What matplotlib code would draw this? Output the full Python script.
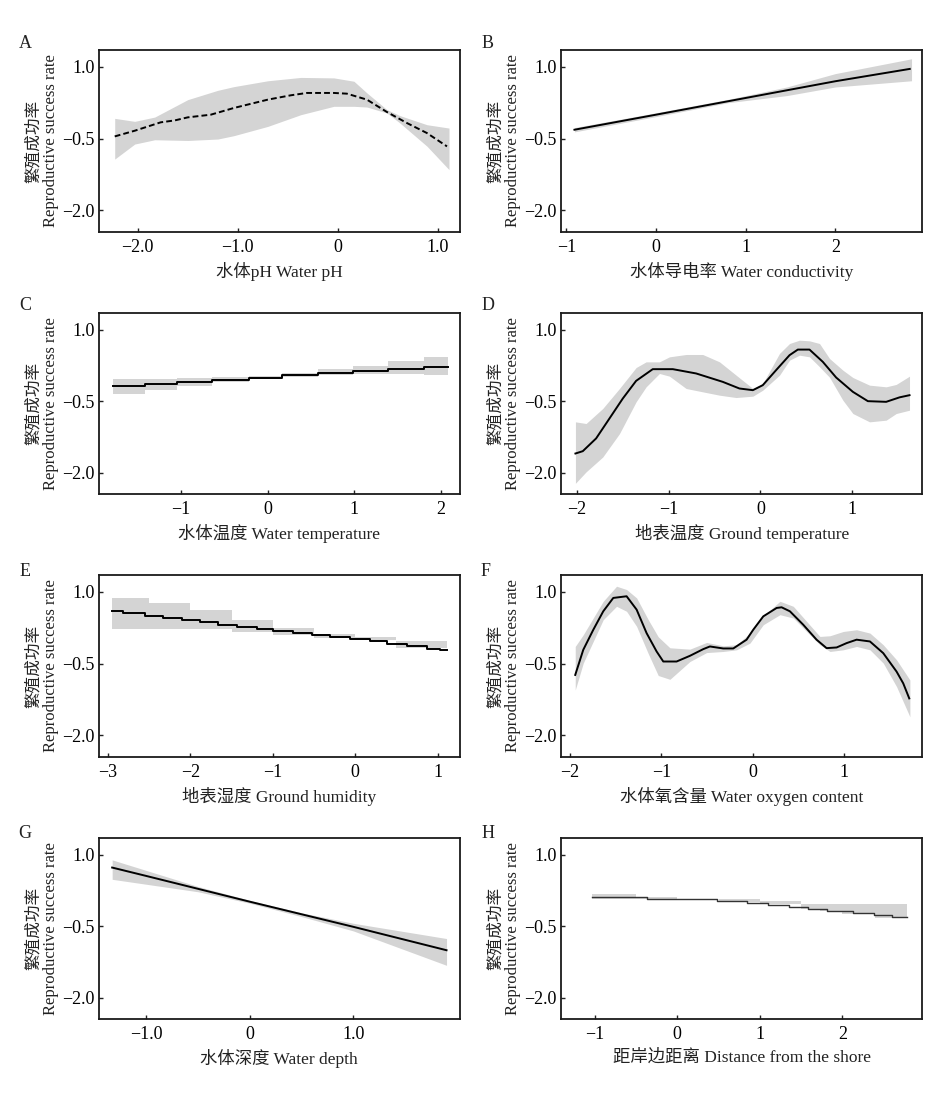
import matplotlib.pyplot as plt
import numpy as np

plt.rcParams['font.family'] = ['Liberation Serif', 'Noto Sans CJK SC']
plt.rcParams['axes.unicode_minus'] = True

# ---- data ----
ylabel = '繁殖成功率\nReproductive success rate'

# A: water pH (dashed line)
a_x = [-2.23, -2.03, -1.77, -1.63, -1.50, -1.27, -1.04, -0.70, -0.47, -0.31, -0.04, 0.09, 0.29, 0.49, 0.69, 0.89, 1.09]
a_y = [-0.455, -0.336, -0.16, -0.12, -0.056, 0.0, 0.14, 0.315, 0.406, 0.455, 0.455, 0.44, 0.315, 0.056, -0.175, -0.385, -0.664]
a_band_x = [-2.23, -2.03, -1.83, -1.50, -1.20, -1.04, -0.70, -0.37, -0.04, 0.16, 0.29, 0.49, 0.62, 0.89, 1.11]
a_hi = [-0.077, -0.14, -0.05, 0.315, 0.51, 0.587, 0.71, 0.78, 0.77, 0.70, 0.455, 0.105, -0.02, -0.21, -0.28]
a_lo = [-0.93, -0.615, -0.525, -0.54, -0.51, -0.44, -0.245, 0.0, 0.175, 0.175, 0.16, 0.035, -0.175, -0.66, -1.15]

# B: water conductivity
b_x = [-0.91, 0.0, 1.0, 2.0, 2.83]
b_y = [-0.315, 0.0, 0.35, 0.70, 0.958]
b_band_x = [-0.91, 0.0, 0.8, 1.46, 2.0, 2.85]
b_hi = [-0.27, 0.04, 0.32, 0.58, 0.86, 1.17]
b_lo = [-0.36, -0.04, 0.25, 0.40, 0.58, 0.71]

# C: water temperature (steps)
c_x = [-1.78, -1.42, -1.05, -0.64, -0.21, 0.17, 0.58, 0.98, 1.39, 1.81, 2.08]
c_y = [-0.186, -0.144, -0.095, -0.047, -0.005, 0.044, 0.093, 0.135, 0.177, 0.225, 0.225]
c_hi = [-0.046, -0.044, -0.025, 0.003, 0.035, 0.094, 0.163, 0.245, 0.337, 0.425, 0.425]
c_lo = [-0.356, -0.264, -0.175, -0.097, -0.045, 0.004, 0.043, 0.065, 0.077, 0.045, 0.045]

# D: ground temperature
d_x = [-2.013, -1.933, -1.788, -1.643, -1.498, -1.353, -1.172, -0.954, -0.700, -0.410, -0.229, -0.083,
       0.025, 0.170, 0.316, 0.406, 0.533, 0.678, 0.823, 1.005, 1.168, 1.367, 1.513, 1.621]
d_y = [-1.596, -1.547, -1.28, -0.863, -0.445, -0.075, 0.17, 0.17, 0.08, -0.096, -0.235, -0.27,
       -0.165, 0.15, 0.463, 0.58, 0.58, 0.323, -0.005, -0.305, -0.5, -0.514, -0.42, -0.375]
d_band_x = [-2.013, -1.897, -1.716, -1.534, -1.353, -1.244, -1.099, -0.990, -0.809, -0.628, -0.446, -0.265, -0.083,
            0.025, 0.207, 0.316, 0.424, 0.533, 0.642, 0.751, 0.896, 1.005, 1.186, 1.367, 1.476, 1.621]
d_hi = [-0.933, -0.968, -0.654, -0.235, 0.204, 0.323, 0.323, 0.428, 0.477, 0.477, 0.323, 0.044, -0.235,
        -0.13, 0.50, 0.707, 0.777, 0.763, 0.707, 0.393, 0.149, -0.005, -0.165, -0.2, -0.15, 0.023]
d_lo = [-2.22, -1.98, -1.67, -1.18, -0.514, -0.2, 0.08, 0.023, -0.235, -0.305, -0.375, -0.424, -0.396,
        -0.27, 0.044, 0.358, 0.463, 0.428, 0.22, 0.0, -0.48, -0.759, -0.933, -0.898, -0.759, -0.689]

# E: ground humidity (steps)
e_x = [-2.954, -2.812, -2.549, -2.327, -2.105, -1.883, -1.661, -1.438, -1.196, -0.994, -0.752,
       -0.529, -0.307, -0.065, 0.178, 0.380, 0.622, 0.865, 1.026, 1.107]
e_y = [0.594, 0.559, 0.502, 0.453, 0.404, 0.362, 0.313, 0.271, 0.222, 0.187, 0.138,
       0.089, 0.054, 0.012, -0.037, -0.093, -0.142, -0.191, -0.226, -0.226]
e_band_x = [-2.954, -2.5, -2.0, -1.5, -1.0, -0.5, 0.0, 0.5, 1.107]
e_hi = [0.874, 0.77, 0.615, 0.418, 0.243, 0.124, 0.054, -0.037, -0.142]
e_lo = [0.229, 0.23, 0.22, 0.16, 0.09, 0.04, -0.01, -0.17, -0.366]

# F: water oxygen content
f_x = [-1.944, -1.856, -1.746, -1.637, -1.527, -1.381, -1.271, -1.162, -1.052, -0.979, -0.833, -0.687,
       -0.541, -0.468, -0.322, -0.212, -0.066, 0.007, 0.117, 0.263, 0.318, 0.409, 0.555, 0.701, 0.811,
       0.921, 1.030, 1.140, 1.286, 1.432, 1.578, 1.651, 1.717]
f_y = [-0.738, -0.212, 0.208, 0.594, 0.874, 0.909, 0.629, 0.138, -0.247, -0.457, -0.457, -0.338,
       -0.198, -0.142, -0.184, -0.184, 0.0, 0.208, 0.488, 0.664, 0.678, 0.594, 0.313, 0.0, -0.177,
       -0.163, -0.072, 0.0, -0.037, -0.282, -0.668, -0.914, -1.23]
f_band_x = [-1.944, -1.856, -1.637, -1.491, -1.381, -1.271, -1.144, -1.034, -0.906, -0.687, -0.504, -0.322,
            -0.175, -0.029, 0.117, 0.300, 0.446, 0.592, 0.738, 0.848, 0.994, 1.140, 1.286, 1.432, 1.578, 1.724]
f_hi = [-0.142, 0.103, 0.804, 1.119, 1.05, 0.874, 0.42, 0.06, -0.17, -0.198, -0.058, -0.128,
        -0.107, 0.138, 0.495, 0.804, 0.699, 0.383, 0.068, 0.082, 0.172, 0.208, 0.138, -0.107, -0.422, -0.843]
f_lo = [-1.053, -0.49, 0.418, 0.699, 0.594, 0.278, -0.29, -0.75, -0.83, -0.457, -0.27, -0.247,
        -0.212, -0.072, 0.313, 0.523, 0.453, 0.172, -0.107, -0.247, -0.212, -0.142, -0.212, -0.49, -0.983, -1.614]

# G: water depth
g_x = [-1.33, -1.0, 0.0, 1.0, 1.9]
g_y = [0.727, 0.551, 0.012, -0.514, -1.004]
g_band_x = [-1.33, -0.5, 0.0, 0.5, 1.0, 1.9]
g_hi = [0.888, 0.33, 0.04, -0.22, -0.44, -0.759]
g_lo = [0.481, 0.22, -0.02, -0.30, -0.60, -1.32]

# H: distance from the shore (steps)
h_x = [-1.03, -0.37, 0.48, 0.84, 1.10, 1.35, 1.59, 1.81, 2.13, 2.38, 2.60, 2.78]
h_y = [0.103, 0.068, 0.026, -0.009, -0.058, -0.1, -0.142, -0.177, -0.233, -0.268, -0.31, -0.31]
h_band_x = [-1.03, -0.74, -0.5, 0.0, 0.5, 1.0, 1.5, 1.73, 2.0, 2.4, 2.78]
h_hi = [0.173, 0.173, 0.11, 0.075, 0.075, 0.02, -0.04, -0.044, -0.044, -0.044, -0.044]
h_lo = [0.061, 0.061, 0.065, 0.06, 0.01, -0.04, -0.14, -0.19, -0.25, -0.33, -0.465]

panels = [
    ('A', '水体pH Water pH', a_x, a_y, a_band_x, a_hi, a_lo, (-2.39, 1.22), [-2, -1, 0, 1], ['−2.0', '−1.0', '0', '1.0']),
    ('B', '水体导电率 Water conductivity', b_x, b_y, b_band_x, b_hi, b_lo, (-1.06, 2.97), [-1, 0, 1, 2], None),
    ('C', '水体温度 Water temperature', c_x, c_y, c_x, c_hi, c_lo, (-1.95, 2.22), [-1, 0, 1, 2], None),
    ('D', '地表温度 Ground temperature', d_x, d_y, d_band_x, d_hi, d_lo, (-2.17, 1.76), [-2, -1, 0, 1], None),
    ('E', '地表湿度 Ground humidity', e_x, e_y, e_band_x, e_hi, e_lo, (-3.11, 1.27), [-3, -2, -1, 0, 1], None),
    ('F', '水体氧含量 Water oxygen content', f_x, f_y, f_band_x, f_hi, f_lo, (-2.10, 1.86), [-2, -1, 0, 1], None),
    ('G', '水体深度 Water depth', g_x, g_y, g_band_x, g_hi, g_lo, (-1.46, 2.03), [-1, 0, 1], ['−1.0', '0', '1.0']),
    ('H', '距岸边距离 Distance from the shore', h_x, h_y, h_band_x, h_hi, h_lo, (-1.41, 2.97), [-1, 0, 1, 2], None),
]
step_panels = ['C', 'E', 'H']

W, H = 939, 1105
fig = plt.figure(figsize=(W / 100, H / 100), dpi=100)

col_left = [98.7, 561]
row_bottom = [231.7, 494.3, 756.7, 1019.3]
ax_w, ax_h = 361.3, 181.5
letter_pos = [(25, 43), (488, 43), (25, 305), (488, 305), (25, 572), (486, 572), (25, 833), (488, 833)]

for i, (letter, xlabel, lx, ly, bx, hi, lo, xlim, xticks, xticklabels) in enumerate(panels):
    r, c = divmod(i, 2)
    ax = fig.add_axes([col_left[c] / W, 1 - row_bottom[r] / H, ax_w / W, ax_h / H])

    if letter in step_panels:
        ax.fill_between(bx, lo, hi, step='post', color='#d4d4d4', lw=0)
        ax.plot(lx, ly, drawstyle='steps-post', color='#333333' if letter == 'H' else 'black',
                lw=1.0 if letter == 'H' else 1.4)
    else:
        ax.fill_between(bx, lo, hi, color='#d4d4d4', lw=0)
        ls = (0, (3, 1.6)) if letter == 'A' else '-'
        ax.plot(lx, ly, color='black', lw=1.4, ls=ls)

    ax.set_xlim(*xlim)
    ax.set_ylim(-2.45, 1.35)
    ax.set_yticks([1.0, -0.5, -2.0])
    ax.set_yticklabels(['1.0', '−0.5', '−2.0'])
    ax.set_xticks(xticks)
    if xticklabels is not None:
        ax.set_xticklabels(xticklabels)
    else:
        ax.set_xticklabels(['−%d' % -t if t < 0 else '%d' % t for t in xticks])
    ax.tick_params(direction='in', length=3, width=1, labelsize=13, color='#222222')
    ax.tick_params(axis='x', pad=5)
    ax.tick_params(axis='y', pad=3)
    for s in ax.spines.values():
        s.set_linewidth(1.3)
        s.set_color('#1a1a1a')

    ax.set_xlabel(xlabel, fontsize=12.5, color='#222222')
    ax.xaxis.set_label_coords(0.5, -0.165)
    ax.xaxis.label.set_va('top')
    ax.set_ylabel(ylabel, fontsize=12, color='#222222', linespacing=1.1)
    ax.yaxis.set_label_coords(-0.11, 0.5)

    px, py = letter_pos[i]
    fig.text(px / W, 1 - py / H, letter, ha='center', va='center', fontsize=13, color='#222222')

plt.savefig('out.png', dpi=100)
